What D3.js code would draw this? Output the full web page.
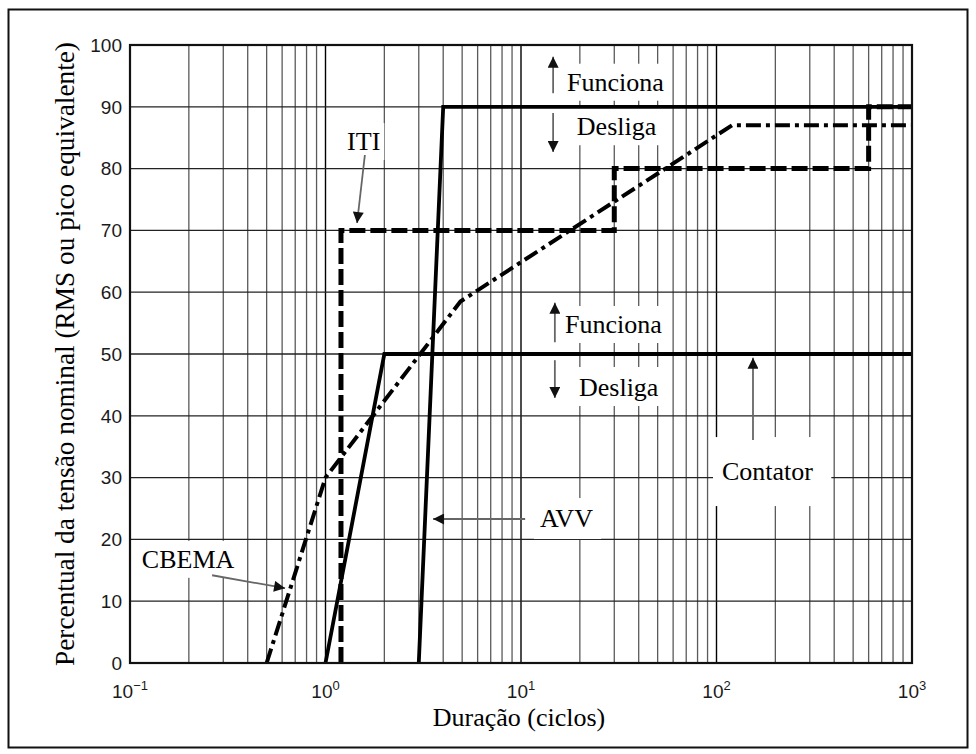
<!DOCTYPE html>
<html>
<head>
<meta charset="utf-8">
<script src="https://cdn.jsdelivr.net/npm/d3@7"></script>
<style>
  html, body { margin: 0; padding: 0; background: #fff; }
  svg { display: block; }
</style>
</head>
<body>
<svg id="chart" width="976" height="754"></svg>
<script>
// Tolerance curves: duration in cycles, voltage in % of nominal
const cbemaDur = [0.5, 1, 4.9, 120, 1000];
const cbemaPct = [0, 30, 58.5, 87, 87];

const itiDur = [1.2, 1.2, 30, 30, 600, 600, 1000];
const itiPct = [0, 70, 70, 80, 80, 90, 90];

const avvDur = [3, 4, 1000];
const avvPct = [0, 90, 90];

const contatorDur = [1, 2, 1000];
const contatorPct = [0, 50, 50];

const yTicks = [0, 10, 20, 30, 40, 50, 60, 70, 80, 90, 100];
const xDecades = [0.1, 1, 10, 100, 1000];
const xExponents = ["\u22121", "0", "1", "2", "3"];

const xTitle = "Duração (ciclos)";
const yTitle = "Percentual da tensão nominal (RMS ou pico equivalente)";

const svg = d3.select("#chart");
const plot = { left: 130, right: 912, top: 45, bottom: 663 };

const x = d3.scaleLog().domain([0.1, 1000]).range([plot.left, plot.right]);
const y = d3.scaleLinear().domain([0, 100]).range([plot.bottom, plot.top]);

// outer frame of the figure
svg.append("rect")
  .attr("x", 8.5).attr("y", 9.5).attr("width", 959).attr("height", 738)
  .attr("fill", "none").attr("stroke", "#111").attr("stroke-width", 2);

// grid: every integer multiple within each decade, plus tens of percent
const minor = [];
xDecades.slice(0, -1).forEach(d => { for (let k = 2; k <= 9; k++) minor.push(d * k); });
const grid = svg.append("g").attr("class", "grid");
grid.selectAll("line.v").data(minor.concat(xDecades)).join("line")
  .attr("class", "v")
  .attr("x1", d => x(d)).attr("x2", d => x(d))
  .attr("y1", plot.top).attr("y2", plot.bottom)
  .attr("stroke", d => xDecades.includes(d) ? "#000" : "#5a5a5a")
  .attr("stroke-width", d => xDecades.includes(d) ? 1.4 : 1.3);
grid.selectAll("line.h").data(yTicks).join("line")
  .attr("class", "h")
  .attr("x1", plot.left).attr("x2", plot.right)
  .attr("y1", d => y(d)).attr("y2", d => y(d))
  .attr("stroke", "#222").attr("stroke-width", 1.3);

// annotations: label, anchor point, arrow (from -> to), padding of the white box
const notes = [
  { text: "Funciona", at: [17.2, 92.6], arrow: [[14.6, 92.2], [14.6, 98.1]], pad: [6, 4, 6, 4] },
  { text: "Desliga",  at: [19.3, 85.4], arrow: [[14.6, 89.0], [14.6, 82.7]], pad: [8, 6, 8, 4] },
  { text: "Funciona", at: [16.8, 53.4], arrow: [[14.9, 51.9], [14.9, 58.3]], pad: [6, 4, 6, 4] },
  { text: "Desliga",  at: [19.8, 43.2], arrow: [[14.9, 49.0], [14.9, 42.9]], pad: [8, 6, 8, 4] },
  { text: "Contator", at: [106.7, 29.6], arrow: [[153.7, 36.1], [153.7, 49.4]], pad: [9, 20, 18, 20] },
  { text: "AVV",      at: [12.5, 22.0], arrow: [[10.5, 23.3], [3.55, 23.3]], pad: [6, 6, 8, 6] },
  { text: "ITI",      at: [1.29, 83.0], arrow: [[1.59, 82.2], [1.45, 71.2]], pad: [4, 4, 4, 4] },
  { text: "CBEMA",    at: [0.115, 15.4], arrow: [[0.263, 14.2], [0.621, 12.1]], pad: [4, 4, 4, 4] }
];

const serif = "'Liberation Serif', 'Times New Roman', serif";
const sans = "'Liberation Sans', Arial, sans-serif";

const boxLayer = svg.append("g");
const noteLayer = svg.append("g");
notes.forEach(n => {
  const t = noteLayer.append("text")
    .attr("x", x(n.at[0])).attr("y", y(n.at[1]))
    .attr("font-family", serif).attr("font-size", 26)
    .attr("fill", "#000").text(n.text);
  const b = t.node().getBBox();
  boxLayer.append("rect")
    .attr("x", b.x - n.pad[0]).attr("y", b.y - n.pad[1])
    .attr("width", b.width + n.pad[0] + n.pad[2])
    .attr("height", b.height + n.pad[1] + n.pad[3])
    .attr("fill", "#fff");
});

// curves
const line = d3.line().x(d => x(d[0])).y(d => y(d[1]));
const curves = [
  { dur: contatorDur, pct: contatorPct, width: 3.8, dash: null },
  { dur: avvDur, pct: avvPct, width: 3.8, dash: null },
  { dur: cbemaDur, pct: cbemaPct, width: 4, dash: "15,5,4,5" },
  { dur: itiDur, pct: itiPct, width: 5, dash: "16,5" }
];
svg.append("g").selectAll("path").data(curves).join("path")
  .attr("d", c => line(d3.zip(c.dur, c.pct)))
  .attr("fill", "none").attr("stroke", "#000")
  .attr("stroke-width", c => c.width)
  .attr("stroke-dasharray", c => c.dash)
  .attr("stroke-linejoin", "miter");

// plot frame
svg.append("rect")
  .attr("x", plot.left).attr("y", plot.top)
  .attr("width", plot.right - plot.left).attr("height", plot.bottom - plot.top)
  .attr("fill", "none").attr("stroke", "#111").attr("stroke-width", 2.2);

// arrows
svg.append("defs").append("marker")
  .attr("id", "head").attr("viewBox", "0 0 10 10")
  .attr("refX", 10).attr("refY", 5)
  .attr("markerUnits", "userSpaceOnUse")
  .attr("markerWidth", 12).attr("markerHeight", 11)
  .attr("orient", "auto")
  .append("path").attr("d", "M0,0 L10,5 L0,10 Z").attr("fill", "#111");
svg.append("g").selectAll("line").data(notes).join("line")
  .attr("x1", n => x(n.arrow[0][0])).attr("y1", n => y(n.arrow[0][1]))
  .attr("x2", n => x(n.arrow[1][0])).attr("y2", n => y(n.arrow[1][1]))
  .attr("stroke", "#666").attr("stroke-width", 1.8)
  .attr("marker-end", "url(#head)");

// y tick labels
svg.append("g").selectAll("text").data(yTicks).join("text")
  .attr("x", plot.left - 8).attr("y", d => y(d))
  .attr("dy", "0.36em")
  .attr("text-anchor", "end")
  .attr("font-family", sans).attr("font-size", 19).attr("fill", "#1a1a1a")
  .text(d => d);

// x tick labels as powers of ten
const xl = svg.append("g").selectAll("text").data(xDecades).join("text")
  .attr("x", d => x(d)).attr("y", 698)
  .attr("text-anchor", "middle")
  .attr("font-family", sans).attr("font-size", 19).attr("fill", "#1a1a1a");
xl.append("tspan").text("10");
xl.append("tspan").attr("dy", -8).attr("font-size", 13)
  .text((d, i) => xExponents[i]);

// axis titles
svg.append("text")
  .attr("x", (plot.left + plot.right) / 2 - 2).attr("y", 726)
  .attr("text-anchor", "middle")
  .attr("font-family", serif).attr("font-size", 26).attr("fill", "#000")
  .text(xTitle);
svg.append("text")
  .attr("transform", "translate(64,354) rotate(-90)")
  .attr("text-anchor", "middle").attr("dy", "0.35em")
  .attr("font-family", serif).attr("font-size", 27.3).attr("fill", "#000")
  .text(yTitle);
</script>
</body>
</html>
